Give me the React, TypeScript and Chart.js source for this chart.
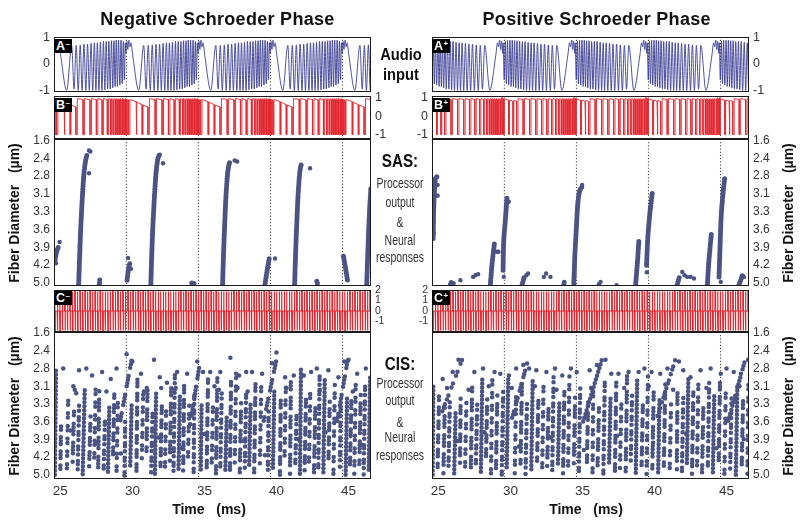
import React, { useEffect, useRef } from 'react';
import { Chart, registerables } from 'chart.js';

Chart.register(...registerables);

// ---------------- data ----------------
const xRange = [24.56, 46.56];
const timeTicks = [25, 30, 35, 40, 45];
const periodMarks = [29.58, 34.58, 39.58, 44.58];
const cycleStarts = [19.58, 24.58, 29.58, 34.58, 39.58, 44.58];
const diameterLabels = ['1.6', '2.4', '2.8', '3.1', '3.3', '3.6', '3.9', '4.2', '5.0'];
const diameterTicks = [0, 1, 2, 3, 4, 5, 6, 7, 8];
const audioTicks = [1, 0, -1];
const audioLabels = ['1', '0', '-1'];
const cisTicks = [2, 1, 0, -1];
const cisLabels = ['2', '1', '0', '-1'];

// audio extrema over one 5 ms period: [offset ms, value]
const audioNegCycle = [
  [0.0, 0.7], [0.05, 0.85], [0.1, 0.55], [0.18, 0.9], [0.25, 0.65], [0.32, 0.8], [0.45, 0.3], [0.86, -1.0],
  [1.21, 0.7], [1.37, -0.95], [1.52, 0.7], [1.66, -1.0], [1.8, 0.72], [1.93, -1.0], [2.06, 0.75], [2.19, -1.0],
  [2.31, 0.75], [2.43, -1.0], [2.55, 0.78], [2.67, -1.0], [2.78, 0.8], [2.89, -1.0], [2.99, 0.8], [3.1, -1.0],
  [3.2, 0.82], [3.31, -1.0], [3.41, 0.85], [3.51, -0.98], [3.6, 0.85], [3.7, -0.95], [3.79, 0.85], [3.88, -0.95],
  [3.97, 0.88], [4.06, -0.9], [4.14, 0.88], [4.22, -0.85], [4.3, 0.9], [4.38, -0.85], [4.46, 0.9], [4.55, -0.8],
  [4.63, 0.9], [4.71, -0.75], [4.79, 0.85], [4.86, -0.6], [4.93, 0.8], [4.97, 0.4],
];
const audioPosCycle = [
  [-0.12, 0.4], [-0.08, 0.8], [-0.01, -0.6], [0.06, 0.85], [0.14, -0.75], [0.22, 0.9], [0.3, -0.8], [0.39, 0.9],
  [0.47, -0.85], [0.55, 0.9], [0.63, -0.85], [0.71, 0.88], [0.79, -0.9], [0.88, 0.88], [0.97, -0.95], [1.06, 0.85],
  [1.15, -0.95], [1.25, 0.85], [1.34, -0.98], [1.44, 0.85], [1.54, -1.0], [1.65, 0.82], [1.75, -1.0], [1.86, 0.8],
  [1.96, -1.0], [2.07, 0.8], [2.18, -1.0], [2.3, 0.78], [2.42, -1.0], [2.54, 0.75], [2.66, -1.0], [2.79, 0.75],
  [2.92, -1.0], [3.05, 0.72], [3.19, -1.0], [3.33, 0.7], [3.48, -0.95], [3.64, 0.7], [3.99, -1.0], [4.4, 0.3],
  [4.53, 0.8], [4.6, 0.65], [4.67, 0.9], [4.75, 0.55], [4.8, 0.85], [4.85, 0.7],
];

// SAS processor output: pulses within one period [start, end, top at start, top at end]
const sasOutLow = -1.0;
const sasOutNegPulses = [
  [0.0, 0.05, 0.9, 0.9], [0.12, 0.18, 0.9, 0.85],
  [0.25, 0.68, 0.9, 0.78], [0.74, 1.1, 0.75, 0.62], [1.16, 1.5, 0.6, 0.5],
  [1.6, 2.0, 0.95, 0.9], [2.1, 2.48, 0.95, 0.88], [2.58, 2.92, 0.95, 0.9], [3.02, 3.32, 0.95, 0.88], [3.42, 3.68, 0.95, 0.9],
  [3.76, 3.9, 0.95, 0.9], [3.97, 4.08, 0.95, 0.9], [4.15, 4.24, 0.95, 0.9], [4.31, 4.38, 0.95, 0.9], [4.45, 4.51, 0.95, 0.9],
  [4.58, 4.63, 0.95, 0.9], [4.7, 4.74, 0.95, 0.9], [4.81, 4.85, 0.95, 0.9], [4.91, 4.95, 0.95, 0.9],
];
const sasOutPosPulses = [
  [0.0, 0.3, 0.95, 0.85], [0.36, 0.6, 0.88, 0.8], [0.66, 0.85, 0.85, 0.8],
  [0.95, 1.3, 0.95, 0.9], [1.4, 1.75, 0.95, 0.9], [1.85, 2.18, 0.95, 0.9], [2.28, 2.58, 0.95, 0.9], [2.68, 2.95, 0.95, 0.9],
  [3.05, 3.28, 0.95, 0.9], [3.37, 3.56, 0.95, 0.9],
  [3.64, 3.78, 0.95, 0.9], [3.85, 3.96, 0.95, 0.9], [4.03, 4.12, 0.95, 0.9], [4.19, 4.26, 0.95, 0.9], [4.33, 4.39, 0.95, 0.9],
  [4.46, 4.51, 0.95, 0.9], [4.58, 4.62, 0.95, 0.9], [4.69, 4.73, 0.95, 0.9], [4.8, 4.84, 1.0, 0.95], [4.9, 4.95, 1.0, 0.95],
];

// CIS biphasic pulses
const cisPulseTimes = [
  24.6, 24.78, 24.95, 25.13, 25.3, 25.48, 25.65, 25.83, 26.0, 26.18, 26.35, 26.53, 26.7, 26.88, 27.05, 27.23, 27.4, 27.58,
  27.75, 27.93, 28.1, 28.28, 28.45, 28.63, 28.8, 28.98, 29.15, 29.33, 29.5, 29.68, 29.85, 30.03, 30.2, 30.38, 30.55, 30.73,
  30.9, 31.08, 31.25, 31.43, 31.6, 31.78, 31.95, 32.13, 32.3, 32.48, 32.65, 32.83, 33.0, 33.18, 33.35, 33.53, 33.7, 33.88,
  34.05, 34.23, 34.4, 34.58, 34.75, 34.93, 35.1, 35.28, 35.45, 35.63, 35.8, 35.98, 36.15, 36.33, 36.5, 36.68, 36.85, 37.03,
  37.2, 37.38, 37.55, 37.73, 37.9, 38.08, 38.25, 38.43, 38.6, 38.78, 38.95, 39.13, 39.3, 39.48, 39.65, 39.83, 40.0, 40.18,
  40.35, 40.53, 40.7, 40.88, 41.05, 41.23, 41.4, 41.58, 41.75, 41.93, 42.1, 42.28, 42.45, 42.63, 42.8, 42.98, 43.15, 43.33,
  43.5, 43.68, 43.85, 44.03, 44.2, 44.38, 44.55, 44.73, 44.9, 45.08, 45.25, 45.43, 45.6, 45.78, 45.95, 46.13, 46.3, 46.48,
];
const cisPulseLevels = [1.85, -1.85];
const cisPhaseWidth = 0.025;

// SAS neural responses: streaks [t, fiber index] and isolated spikes
const sasNegStreaks = [
  [[26.27, 8.1], [26.34, 6.5], [26.41, 5.0], [26.53, 3.15], [26.64, 1.84], [26.76, 1.09], [26.85, 0.81]],
  [[31.28, 8.1], [31.34, 6.5], [31.41, 5.0], [31.53, 3.15], [31.64, 1.84], [31.76, 1.05], [31.86, 0.81]],
  [[36.26, 8.1], [36.32, 6.5], [36.39, 5.0], [36.49, 3.2], [36.59, 2.0], [36.69, 1.4], [36.77, 1.18]],
  [[41.26, 8.1], [41.32, 6.5], [41.39, 5.0], [41.49, 3.2], [41.58, 2.1], [41.67, 1.5], [41.75, 1.28]],
  [[46.26, 8.1], [46.33, 6.5], [46.4, 5.0], [46.48, 3.6], [46.56, 2.6]],
  [[24.62, 6.8], [24.72, 6.3], [24.85, 6.0]],
  [[29.63, 7.85], [29.75, 7.1], [29.85, 6.85]],
  [[27.7, 8.1], [27.74, 7.8]],
  [[34.12, 8.0], [34.4, 8.05]],
  [[39.2, 8.1], [39.35, 7.3], [39.5, 6.6]],
  [[42.8, 7.9], [42.86, 8.1]],
  [[44.65, 6.5], [44.8, 7.2], [44.95, 7.95]],
];
const sasNegDots = [
  [26.99, 0.56], [27.08, 0.62], [26.99, 1.84], [31.9, 0.8], [32.13, 1.28], [37.1, 1.13], [37.27, 1.18], [42.33, 1.56],
  [24.95, 5.7], [39.9, 6.63], [29.7, 6.6], [26.35, 5.9], [24.7, 6.9], [29.9, 7.2],
];
const sasPosStreaks = [
  [[24.64, 5.5], [24.67, 4.09], [24.72, 2.97], [24.8, 2.12], [24.9, 2.03]],
  [[28.61, 8.1], [28.73, 6.91], [28.89, 5.78]],
  [[29.49, 7.28], [29.54, 5.6], [29.65, 4.47], [29.77, 3.15]],
  [[34.4, 8.1], [34.47, 6.53], [34.57, 5.03], [34.68, 3.53], [34.82, 2.78], [34.98, 2.59]],
  [[38.69, 8.1], [38.81, 6.91], [38.92, 5.59]],
  [[39.45, 7.0], [39.54, 5.41], [39.68, 4.09], [39.84, 2.97]],
  [[43.67, 8.1], [43.78, 6.72], [43.95, 5.22]],
  [[44.48, 7.66], [44.55, 5.97], [44.64, 4.09], [44.78, 2.78], [44.87, 2.12]],
  [[45.87, 8.1], [46.1, 7.57]],
  [[25.83, 8.1], [25.95, 7.85]],
  [[30.81, 8.1], [30.95, 7.7]],
  [[33.71, 8.1], [33.75, 7.9]],
  [[41.58, 8.1], [41.75, 7.6]],
];
const sasPosDots = [
  [26.06, 8.03], [26.53, 7.85], [27.41, 7.66], [27.57, 7.57], [27.76, 7.51], [31.11, 7.57], [31.23, 7.47], [32.32, 7.66],
  [32.48, 7.47], [32.78, 7.66], [36.26, 7.94], [36.14, 8.07], [37.37, 8.13], [41.93, 7.38], [42.09, 7.57], [42.28, 7.66],
  [42.51, 7.66], [42.74, 7.75], [46.21, 7.66], [24.95, 2.5], [24.95, 3.1], [29.07, 6.25], [29.17, 6.25], [29.89, 3.44],
  [29.54, 7.66], [34.98, 2.5], [44.6, 7.94], [39.47, 7.4], [24.66, 4.6], [24.68, 5.2],
];

// CIS neural responses: dotted columns [t bottom, index bottom, t top, index top] and isolated spikes
const cisNegStreaks = [
  [24.62, 8.0, 24.7, 2.0], [25.0, 7.7, 25.05, 5.2], [25.45, 8.05, 25.55, 3.6], [25.85, 7.4, 25.95, 4.4],
  [26.2, 7.9, 26.3, 4.1], [26.55, 8.05, 26.7, 3.0], [27.0, 7.6, 27.1, 4.6], [27.35, 7.3, 27.45, 3.2],
  [27.62, 8.05, 27.7, 3.2], [28.0, 7.8, 28.1, 4.8], [28.3, 8.0, 28.4, 4.1], [28.65, 7.2, 28.75, 3.3],
  [28.9, 7.9, 29.0, 3.6], [29.15, 5.0, 29.95, 1.5], [29.45, 8.05, 29.5, 4.9], [29.85, 7.5, 29.95, 4.0],
  [30.28, 8.0, 30.35, 2.6], [30.65, 7.2, 30.75, 3.4], [30.98, 6.8, 31.05, 3.2], [31.3, 7.9, 31.4, 4.5],
  [31.56, 8.05, 31.65, 3.2], [31.95, 7.6, 32.05, 3.8], [32.25, 8.0, 32.35, 4.1], [32.6, 7.4, 32.7, 3.0],
  [32.85, 8.05, 32.95, 2.3], [33.2, 7.8, 33.3, 3.5], [33.52, 7.9, 33.6, 2.6], [33.85, 7.3, 33.95, 4.0],
  [34.0, 5.2, 34.7, 1.6], [34.25, 8.05, 34.3, 3.2], [34.75, 7.7, 34.8, 4.0], [35.15, 8.0, 35.25, 2.6],
  [35.5, 7.5, 35.6, 4.0], [35.8, 8.05, 35.9, 2.4], [36.1, 7.6, 36.2, 3.4], [36.45, 7.8, 36.55, 4.6],
  [36.77, 8.0, 36.85, 2.6], [37.1, 7.5, 37.2, 2.2], [37.45, 8.05, 37.55, 3.8], [37.8, 7.7, 37.9, 3.2],
  [38.1, 7.6, 38.2, 4.0], [38.45, 8.0, 38.55, 2.5], [38.85, 7.4, 38.95, 2.6], [39.1, 5.0, 40.05, 1.3],
  [39.4, 8.05, 39.45, 4.4], [39.75, 7.8, 39.85, 3.3], [40.24, 8.0, 40.3, 3.5], [40.55, 7.3, 40.65, 3.0],
  [40.94, 8.05, 41.0, 2.6], [41.3, 7.6, 41.4, 4.4], [41.63, 8.0, 41.7, 2.0], [41.95, 7.8, 42.05, 3.6],
  [42.25, 7.5, 42.35, 3.0], [42.6, 8.05, 42.7, 4.2], [42.9, 7.7, 43.0, 2.2], [43.25, 8.0, 43.35, 2.6],
  [43.6, 7.4, 43.7, 3.8], [43.95, 8.05, 44.05, 2.8], [44.2, 5.0, 44.95, 1.5], [44.4, 7.7, 44.45, 4.2],
  [44.8, 8.0, 44.9, 3.6], [45.1, 7.6, 45.2, 3.8], [45.4, 8.05, 45.5, 2.8], [45.75, 7.5, 45.85, 3.4],
  [46.05, 8.0, 46.15, 3.0], [46.4, 7.8, 46.5, 2.4],
];
const cisNegDots = [
  [25.2, 2.0], [25.9, 3.0], [26.3, 2.1], [26.8, 2.0], [27.2, 2.4], [27.9, 2.2], [28.5, 2.6], [28.9, 2.0], [29.6, 1.2],
  [30.0, 1.6], [30.6, 2.3], [31.5, 1.5], [31.9, 2.5], [32.4, 2.8], [33.1, 2.2], [33.8, 2.3], [34.5, 1.6], [34.9, 2.2],
  [35.4, 2.2], [36.1, 2.2], [36.8, 1.4], [37.4, 2.4], [37.9, 2.2], [38.3, 2.2], [39.0, 2.3], [39.7, 1.7], [40.0, 1.1],
  [40.6, 2.5], [41.2, 2.4], [41.9, 2.4], [42.4, 2.2], [42.8, 2.0], [43.6, 2.1], [44.3, 2.5], [44.7, 1.6], [45.0, 1.5],
  [45.6, 2.3], [46.2, 2.0], [26.0, 3.2], [26.1, 3.4], [28.2, 3.3], [30.8, 3.3], [31.0, 3.1], [32.0, 3.1], [33.0, 3.1],
  [35.7, 3.0], [36.0, 3.2], [37.3, 3.1], [38.0, 3.3], [40.7, 3.1], [43.0, 3.2], [45.3, 3.3], [46.5, 3.2], [25.7, 5.5],
  [27.5, 6.2], [29.2, 6.8], [31.8, 5.9], [33.4, 6.5], [35.0, 5.7], [37.7, 6.1], [39.2, 6.9], [41.5, 6.0], [43.4, 5.6],
  [45.9, 6.3],
];
const cisPosStreaks = [
  [24.6, 8.0, 24.65, 3.0], [24.95, 7.6, 25.05, 3.5], [25.1, 4.8, 26.65, 1.5], [25.35, 8.05, 25.45, 4.0],
  [25.7, 7.7, 25.8, 3.8], [26.1, 8.0, 26.2, 4.4], [26.5, 7.4, 26.55, 3.6], [26.85, 7.8, 26.95, 3.9],
  [27.25, 8.05, 27.35, 3.0], [27.6, 7.5, 27.7, 4.0], [27.95, 8.0, 28.05, 2.6], [28.3, 7.3, 28.4, 3.6],
  [28.65, 8.05, 28.75, 2.5], [29.0, 7.7, 29.1, 3.4], [29.4, 8.0, 29.5, 3.2], [29.75, 7.6, 29.85, 2.6],
  [30.05, 5.0, 31.2, 1.6], [30.3, 8.05, 30.4, 3.3], [30.7, 7.5, 30.8, 2.8], [31.05, 8.0, 31.15, 4.0],
  [31.45, 7.8, 31.55, 2.5], [31.85, 7.3, 31.95, 3.5], [32.2, 8.05, 32.3, 3.0], [32.55, 7.7, 32.65, 4.0],
  [32.9, 8.0, 33.0, 2.4], [33.3, 7.5, 33.4, 3.8], [33.65, 8.05, 33.75, 3.2], [34.0, 7.8, 34.1, 2.3],
  [34.4, 7.4, 34.5, 3.5], [34.75, 8.0, 34.85, 3.0], [35.05, 5.0, 36.35, 1.5], [35.3, 7.7, 35.4, 3.8],
  [35.7, 8.05, 35.75, 3.0], [36.05, 7.6, 36.15, 4.2], [36.45, 8.0, 36.55, 2.8], [36.85, 7.4, 36.95, 3.6],
  [37.25, 8.05, 37.35, 2.8], [37.6, 7.8, 37.7, 4.0], [38.0, 8.0, 38.1, 2.4], [38.35, 7.3, 38.45, 3.4],
  [38.7, 8.05, 38.8, 2.6], [39.1, 7.6, 39.2, 3.8], [39.45, 8.0, 39.55, 2.4], [39.85, 7.7, 39.95, 3.2],
  [40.1, 5.0, 41.45, 1.5], [40.25, 8.05, 40.35, 3.6], [40.65, 7.5, 40.75, 2.8], [41.05, 8.0, 41.15, 4.0],
  [41.55, 7.8, 41.6, 3.0], [41.9, 8.05, 42.0, 3.6], [42.25, 7.4, 42.35, 2.6], [42.6, 8.0, 42.7, 3.2],
  [42.95, 7.7, 43.05, 2.5], [43.3, 8.05, 43.4, 3.8], [43.7, 7.6, 43.8, 2.6], [44.05, 8.0, 44.15, 3.4],
  [44.45, 7.5, 44.55, 2.6], [44.85, 8.05, 44.95, 3.0], [45.1, 5.0, 46.3, 1.5], [45.25, 7.8, 45.35, 3.6],
  [45.65, 8.0, 45.75, 3.0], [46.05, 7.6, 46.15, 3.8], [46.45, 8.05, 46.52, 2.8],
];
const cisPosDots = [
  [25.3, 2.6], [26.0, 2.2], [26.4, 1.5], [27.5, 2.2], [28.1, 2.0], [28.9, 2.2], [29.3, 2.3], [29.9, 2.4], [30.4, 2.0],
  [30.9, 1.8], [31.3, 2.0], [31.8, 2.1], [32.5, 2.2], [33.1, 2.0], [33.6, 2.4], [34.2, 2.0], [34.6, 2.2], [35.5, 2.1],
  [36.0, 1.8], [36.6, 1.5], [37.0, 2.3], [37.5, 2.3], [38.2, 2.2], [38.9, 2.2], [39.3, 2.0], [39.8, 2.2], [40.4, 2.3],
  [40.9, 2.0], [41.7, 1.6], [42.0, 2.1], [42.5, 2.5], [43.2, 2.1], [43.9, 2.0], [44.6, 2.3], [45.0, 2.0], [45.5, 2.2],
  [46.0, 2.3], [46.5, 1.5], [25.6, 3.1], [27.1, 3.2], [28.5, 3.0], [30.1, 3.1], [31.7, 3.0], [33.2, 3.2], [35.6, 3.1],
  [37.9, 3.1], [39.6, 3.0], [41.3, 3.2], [43.6, 3.1], [45.9, 3.0], [26.3, 6.1], [28.2, 5.6], [30.6, 6.4], [32.8, 5.9],
  [35.1, 6.6], [37.4, 5.8], [39.9, 6.2], [42.2, 5.7], [44.3, 6.5], [46.2, 6.0],
];

// ---------------- style ----------------
const BLUE = '#3b3d95';
const RED = '#e3262f';
const DOT = '#4a5382';
const INK = '#1b1b1b';
const TICK = '#333333';
const FONT = '"Liberation Sans", Arial, Helvetica, sans-serif';
const CLUMP_DASHES = [
  [0, 4.0],
  [0, 3.3, 0, 3.3, 0, 7.5],
  [0, 4.2, 0, 8.5],
  [0, 3.5, 0, 3.5, 0, 3.5, 0, 8.5],
  [0, 5.0, 0, 3.1, 0, 6.5],
];

const ML = 44;
const MR = 44;
const MT = 12;
const MB = 26;

// ---------------- dataset builders ----------------
type Pt = { x: number; y: number };

function tileCycle(cycle: number[][]): Pt[] {
  const pts: Pt[] = [];
  for (const s of cycleStarts) for (const [o, v] of cycle) pts.push({ x: s + o, y: v });
  return pts;
}

function pulseTrain(pulses: number[][]): Pt[] {
  const pts: Pt[] = [];
  for (const s of cycleStarts)
    for (const [a, b, v1, v2] of pulses) {
      pts.push({ x: s + a, y: sasOutLow }, { x: s + a, y: v1 }, { x: s + b, y: v2 }, { x: s + b, y: sasOutLow });
    }
  return pts;
}

function cisTrain(): Pt[] {
  const pts: Pt[] = [];
  const [hi, lo] = cisPulseLevels;
  for (const t of cisPulseTimes) {
    pts.push(
      { x: t, y: 0 }, { x: t, y: hi }, { x: t + cisPhaseWidth, y: hi },
      { x: t + cisPhaseWidth, y: lo }, { x: t + 2 * cisPhaseWidth, y: lo }, { x: t + 2 * cisPhaseWidth, y: 0 },
    );
  }
  return pts;
}

function markLines(yMin: number, yMax: number) {
  return periodMarks.map((t) => ({
    data: [{ x: t, y: yMin }, { x: t, y: yMax }],
    showLine: true, borderColor: INK, borderWidth: 1, borderDash: [1, 2.2], pointRadius: 0, order: 10, clip: 0,
  }));
}

function waveSet(data: Pt[], color: string, smooth: boolean, width = 1) {
  return {
    data, showLine: true, borderColor: color, borderWidth: width, pointRadius: 0, clip: 0, order: 1,
    cubicInterpolationMode: smooth ? 'monotone' : 'default', tension: 0,
  };
}

function sasSets(streaks: number[][][], dots: number[][]) {
  const sets: any[] = streaks.map((s) => ({
    data: s.map(([x, y]) => ({ x, y })), showLine: true, borderColor: DOT, borderWidth: 5,
    borderCapStyle: 'round', borderJoinStyle: 'round', borderDash: [0, 2.4], tension: 0.3, pointRadius: 0, clip: 0, order: 1,
  }));
  sets.push({ data: dots.map(([x, y]) => ({ x, y })), pointRadius: 2.2, pointBackgroundColor: DOT, pointBorderWidth: 0, clip: 0, order: 1 });
  return sets;
}

function cisSets(streaks: number[][], dots: number[][]) {
  const sets: any[] = streaks.map(([x0, y0, x1, y1], i) => ({
    data: [{ x: x0, y: y0 }, { x: x1, y: y1 }], showLine: true, borderColor: DOT, borderWidth: 4.5,
    borderCapStyle: 'round', borderDash: CLUMP_DASHES[i % CLUMP_DASHES.length], borderDashOffset: (i * 2.7) % 11,
    pointRadius: 0, clip: 0, order: 1,
  }));
  sets.push({ data: dots.map(([x, y]) => ({ x, y })), pointRadius: 2.25, pointBackgroundColor: DOT, pointBorderWidth: 0, clip: 0, order: 1 });
  return sets;
}

// ---------------- panels ----------------
type PanelSpec = {
  x: number; y: number; w: number; h: number;
  side: 'left' | 'right';
  yMin: number; yMax: number; reverse?: boolean;
  tickValues: number[]; tickLabels: string[]; tickSize: number;
  xTicks?: boolean;
  build: () => any[];
};

const LX = 54;
const RX = 432;
const W = 317;

const panels: PanelSpec[] = [
  { x: LX, y: 37, w: W, h: 55, side: 'left', yMin: -1.06, yMax: 1.02, tickValues: audioTicks, tickLabels: audioLabels, tickSize: 12.5,
    build: () => [waveSet(tileCycle(audioNegCycle), BLUE, true, 0.9), ...markLines(-1.06, 1.02)] },
  { x: RX, y: 37, w: W, h: 55, side: 'right', yMin: -1.06, yMax: 1.02, tickValues: audioTicks, tickLabels: audioLabels, tickSize: 12.5,
    build: () => [waveSet(tileCycle(audioPosCycle), BLUE, true, 0.9), ...markLines(-1.06, 1.02)] },
  { x: LX, y: 96, w: W, h: 43, side: 'right', yMin: -1.24, yMax: 1.09, tickValues: audioTicks, tickLabels: audioLabels, tickSize: 12.5,
    build: () => [waveSet(pulseTrain(sasOutNegPulses), RED, false, 0.9), ...markLines(-1.24, 1.09)] },
  { x: RX, y: 96, w: W, h: 43, side: 'left', yMin: -1.24, yMax: 1.09, tickValues: audioTicks, tickLabels: audioLabels, tickSize: 12.5,
    build: () => [waveSet(pulseTrain(sasOutPosPulses), RED, false, 0.9), ...markLines(-1.24, 1.09)] },
  { x: LX, y: 139, w: W, h: 147, side: 'left', yMin: -0.08, yMax: 8.17, reverse: true, tickValues: diameterTicks, tickLabels: diameterLabels, tickSize: 12,
    build: () => [...sasSets(sasNegStreaks, sasNegDots), ...markLines(-0.08, 8.17)] },
  { x: RX, y: 139, w: W, h: 147, side: 'right', yMin: -0.08, yMax: 8.17, reverse: true, tickValues: diameterTicks, tickLabels: diameterLabels, tickSize: 12,
    build: () => [...sasSets(sasPosStreaks, sasPosDots), ...markLines(-0.08, 8.17)] },
  { x: LX, y: 290, w: W, h: 42, side: 'right', yMin: -2, yMax: 2, tickValues: cisTicks, tickLabels: cisLabels, tickSize: 10.5,
    build: () => [waveSet(cisTrain(), RED, false, 1.2), ...markLines(-2, 2)] },
  { x: RX, y: 290, w: W, h: 42, side: 'left', yMin: -2, yMax: 2, tickValues: cisTicks, tickLabels: cisLabels, tickSize: 10.5,
    build: () => [waveSet(cisTrain(), RED, false, 1.2), ...markLines(-2, 2)] },
  { x: LX, y: 332, w: W, h: 147, side: 'left', yMin: -0.06, yMax: 8.24, reverse: true, tickValues: diameterTicks, tickLabels: diameterLabels, tickSize: 12, xTicks: true,
    build: () => [...cisSets(cisNegStreaks, cisNegDots), ...markLines(-0.06, 8.24)] },
  { x: RX, y: 332, w: W, h: 147, side: 'right', yMin: -0.06, yMax: 8.24, reverse: true, tickValues: diameterTicks, tickLabels: diameterLabels, tickSize: 12, xTicks: true,
    build: () => [...cisSets(cisPosStreaks, cisPosDots), ...markLines(-0.06, 8.24)] },
];

const framePlugin = {
  id: 'frame',
  afterDatasetsDraw(chart: any) {
    const { ctx, chartArea: a } = chart;
    ctx.save();
    ctx.strokeStyle = INK;
    ctx.lineWidth = 1;
    ctx.setLineDash([]);
    ctx.strokeRect(a.left + 0.5, a.top + 0.5, a.right - a.left - 1, a.bottom - a.top - 1);
    ctx.restore();
  },
};

function makeConfig(p: PanelSpec): any {
  const left = p.side === 'left';
  return {
    type: 'scatter',
    data: { datasets: p.build() },
    options: {
      animation: false,
      responsive: false,
      events: [],
      layout: { padding: { left: left ? 0 : ML, right: left ? MR : 0, top: MT, bottom: 0 } },
      plugins: { legend: { display: false }, tooltip: { enabled: false }, title: { display: false } },
      scales: {
        x: {
          type: 'linear', min: xRange[0], max: xRange[1],
          grid: { display: false, drawTicks: false }, border: { display: false },
          ticks: { display: !!p.xTicks, padding: 4, color: TICK, autoSkip: false, maxRotation: 0, font: { family: FONT, size: 13.5 } },
          afterBuildTicks: (s: any) => { s.ticks = timeTicks.map((v) => ({ value: v })); },
          afterFit: (s: any) => { s.height = MB; s.paddingLeft = 0; s.paddingRight = 0; },
        },
        y: {
          type: 'linear', position: p.side, min: p.yMin, max: p.yMax, reverse: !!p.reverse,
          grid: { display: false, drawTicks: false }, border: { display: false },
          ticks: {
            padding: 4, color: TICK, autoSkip: false, font: { family: FONT, size: p.tickSize },
            callback: (_v: any, i: number) => p.tickLabels[i],
          },
          afterBuildTicks: (s: any) => { s.ticks = p.tickValues.map((v) => ({ value: v })); },
          afterFit: (s: any) => { s.width = left ? ML : MR; s.paddingTop = 0; s.paddingBottom = 0; },
        },
      },
    },
    plugins: [framePlugin],
  };
}

function Panel({ spec }: { spec: PanelSpec }) {
  const ref = useRef<HTMLCanvasElement>(null);
  const cw = spec.w + ML + MR;
  const ch = spec.h + MT + MB;
  useEffect(() => {
    const chart = new Chart(ref.current as HTMLCanvasElement, makeConfig(spec));
    return () => chart.destroy();
  }, []);
  return (
    <canvas
      ref={ref}
      width={cw}
      height={ch}
      style={{ position: 'absolute', left: spec.x - ML, top: spec.y - MT, width: cw, height: ch }}
    />
  );
}

function Tag({ x, y, letter, sign }: { x: number; y: number; letter: string; sign: string }) {
  return (
    <div
      style={{
        position: 'absolute', left: x, top: y, width: 18, height: 14, background: '#000', color: '#fff',
        fontFamily: FONT, fontWeight: 'bold', fontSize: 12.5, lineHeight: '14px', paddingLeft: 2, boxSizing: 'border-box',
        whiteSpace: 'nowrap', overflow: 'hidden',
      }}
    >
      {letter}
      <span style={{ fontSize: 8, position: 'relative', top: -4, marginLeft: 0.5 }}>{sign}</span>
    </div>
  );
}

function Txt({ x, y, children, size, bold, sx = 1, rotate = 0, color = '#111', ls = 0 }: any) {
  return (
    <div
      style={{
        position: 'absolute', left: x, top: y, fontFamily: FONT, fontSize: size, fontWeight: bold ? 'bold' : 'normal',
        color, whiteSpace: 'pre', lineHeight: 1, letterSpacing: ls,
        transform: `translate(-50%, -50%) rotate(${rotate}deg) scaleX(${sx})`,
      }}
    >
      {children}
    </div>
  );
}

const midLines = ['Processor', 'output', '&', 'Neural', 'responses'];
const sasMidY = [183.3, 201.7, 221.7, 240, 256.7];
const cisMidY = [382.7, 400, 421.7, 436.7, 455];

export default function App() {
  return (
    <div style={{ position: 'absolute', left: 0, top: 0, width: 800, height: 520, background: '#fff', overflow: 'hidden' }}>
      {panels.map((p, i) => (
        <Panel key={i} spec={p} />
      ))}
      <Tag x={LX} y={39} letter="A" sign="–" />
      <Tag x={RX} y={39} letter="A" sign="+" />
      <Tag x={LX} y={98} letter="B" sign="–" />
      <Tag x={RX} y={98} letter="B" sign="+" />
      <Tag x={LX} y={291} letter="C" sign="–" />
      <Tag x={RX} y={291} letter="C" sign="+" />

      <Txt x={217.5} y={18.5} size={18} bold ls="0.3px">Negative Schroeder Phase</Txt>
      <Txt x={596.7} y={18.5} size={18} bold ls="0.3px">Positive Schroeder Phase</Txt>

      <Txt x={400.5} y={54.5} size={16} bold sx={0.92}>Audio</Txt>
      <Txt x={400.5} y={75} size={16} bold sx={0.92}>input</Txt>
      <Txt x={400} y={160} size={19} bold sx={0.8}>SAS:</Txt>
      {midLines.map((t, i) => (
        <Txt key={'s' + i} x={400} y={sasMidY[i]} size={14.5} sx={0.72} color="#333">{t}</Txt>
      ))}
      <Txt x={400} y={363.3} size={19} bold sx={0.8}>CIS:</Txt>
      {midLines.map((t, i) => (
        <Txt key={'c' + i} x={400} y={cisMidY[i]} size={14.5} sx={0.72} color="#333">{t}</Txt>
      ))}

      <Txt x={14} y={212.5} size={14} bold rotate={-90}>{'Fiber Diameter   (µm)'}</Txt>
      <Txt x={14} y={405.5} size={14} bold rotate={-90}>{'Fiber Diameter   (µm)'}</Txt>
      <Txt x={788} y={212.5} size={14} bold rotate={-90}>{'Fiber Diameter   (µm)'}</Txt>
      <Txt x={788} y={405.5} size={14} bold rotate={-90}>{'Fiber Diameter   (µm)'}</Txt>

      <Txt x={209} y={509} size={14} bold>{'Time   (ms)'}</Txt>
      <Txt x={586} y={509} size={14} bold>{'Time   (ms)'}</Txt>
    </div>
  );
}
